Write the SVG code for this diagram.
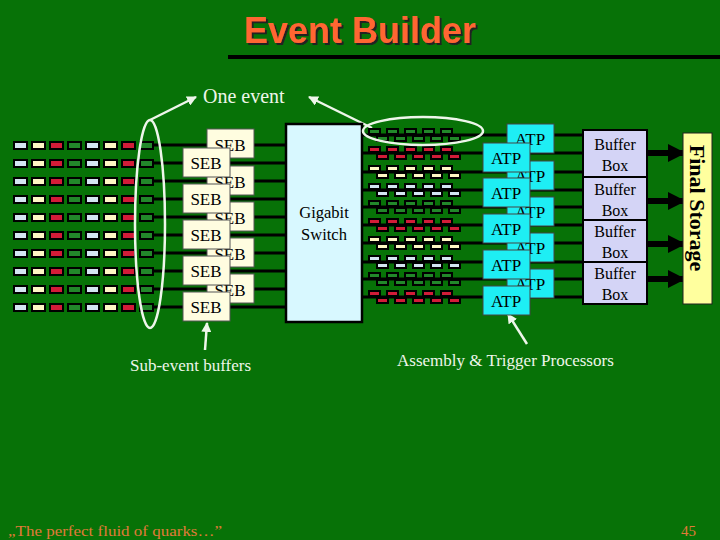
<svg xmlns="http://www.w3.org/2000/svg" width="720" height="540" viewBox="0 0 720 540">
<defs>
<style>
.t{font-family:"Liberation Serif","Times New Roman",serif;fill:#000}
.w{font-family:"Liberation Serif","Times New Roman",serif;fill:#eef6ea}
.cell{stroke:#000;stroke-width:2}
.lb{fill:#d4e6f2}.yl{fill:#fff8c4}.rd{fill:#d21c38}.gr{fill:#22882a}
.seb{fill:#fffde0;stroke:#555;stroke-width:1}
.atp{fill:#1eeef4;stroke:#444;stroke-width:1}
.bb{fill:#d4d4f6;stroke:#000;stroke-width:2}
.ln{stroke:#000;stroke-width:3;fill:none}
.wa{stroke:#eef6ea;stroke-width:2.5;fill:none}
</style>
<filter id="sh" x="-5%" y="-20%" width="110%" height="140%"><feDropShadow dx="2" dy="2" stdDeviation="0.6" flood-color="#222"/></filter>
<marker id="wh" viewBox="0 0 10 10" refX="9" refY="5" markerWidth="4" markerHeight="4" orient="auto"><path d="M0,0L10,5L0,10z" fill="#eef6ea"/></marker>
<marker id="bh" viewBox="0 0 10 10" refX="9" refY="5" markerWidth="3" markerHeight="3" orient="auto"><path d="M0,0L10,5L0,10z" fill="#000"/></marker>
<g id="row">
<rect class="cell lb" x="14" y="-3" width="13" height="7"/>
<rect class="cell yl" x="32" y="-3" width="13" height="7"/>
<rect class="cell rd" x="50" y="-3" width="13" height="7"/>
<rect class="cell gr" x="68" y="-3" width="13" height="7"/>
<rect class="cell lb" x="86" y="-3" width="13" height="7"/>
<rect class="cell yl" x="104" y="-3" width="13" height="7"/>
<rect class="cell rd" x="122" y="-3" width="13" height="7"/>
<rect class="cell gr" x="140" y="-3" width="13" height="7"/>
</g>
<g id="bricks" stroke="#000" stroke-width="2">
<rect x="369" y="0" width="11" height="5"/><rect x="387" y="0" width="11" height="5"/><rect x="405" y="0" width="11" height="5"/><rect x="423" y="0" width="11" height="5"/><rect x="441" y="0" width="11" height="5"/>
<rect x="377" y="7" width="11" height="5"/><rect x="395" y="7" width="11" height="5"/><rect x="413" y="7" width="11" height="5"/><rect x="431" y="7" width="11" height="5"/><rect x="449" y="7" width="11" height="5"/>
</g>
</defs>
<rect x="0" y="0" width="720" height="540" fill="#077207"/>
<g id="title">
<text x="360" y="43" font-family="Liberation Sans,Arial,sans-serif" font-weight="bold" font-size="36" fill="#ff6630" text-anchor="middle" filter="url(#sh)">Event Builder</text>
<rect x="228" y="55" width="492" height="4" fill="#000"/>
</g>
<g id="connectors">
<g class="ln">
<path d="M150 145H286M150 163H286M150 181H286M150 199H286M150 217H286M150 235H286M150 253H286M150 271H286M150 289H286M150 307H286"/>
<path d="M362 135H583M362 153H583M362 172H583M362 190H583M362 207H583M362 225H583M362 243H583M362 262H583M362 279H583M362 297H583"/>
</g>
<g stroke="#000" stroke-width="6" marker-end="url(#bh)">
<line x1="647" y1="153" x2="684" y2="153"/>
<line x1="647" y1="201" x2="684" y2="201"/>
<line x1="647" y1="244" x2="684" y2="244"/>
<line x1="647" y1="279" x2="684" y2="279"/>
</g>
<line class="wa" x1="150" y1="120" x2="196" y2="97" marker-end="url(#wh)"/>
<line class="wa" x1="372" y1="128" x2="309" y2="97" marker-end="url(#wh)"/>
<line class="wa" x1="205" y1="350" x2="207" y2="323" marker-end="url(#wh)"/>
<line class="wa" x1="527" y1="344" x2="508" y2="314" marker-end="url(#wh)"/>
</g>
<g id="subevent-rows">
<use href="#row" y="145"/><use href="#row" y="163"/><use href="#row" y="181"/><use href="#row" y="199"/><use href="#row" y="217"/>
<use href="#row" y="235"/><use href="#row" y="253"/><use href="#row" y="271"/><use href="#row" y="289"/><use href="#row" y="307"/>
</g>
<ellipse id="event-ellipse-left" cx="150" cy="224" rx="15" ry="104" class="wa"/>
<g id="seb-back">
<rect class="seb" x="207" y="129" width="47" height="29"/><text class="t" x="230" y="151" font-size="17" text-anchor="middle">SEB</text>
<rect class="seb" x="207" y="166" width="47" height="29"/><text class="t" x="230" y="188" font-size="17" text-anchor="middle">SEB</text>
<rect class="seb" x="207" y="202" width="47" height="29"/><text class="t" x="230" y="224" font-size="17" text-anchor="middle">SEB</text>
<rect class="seb" x="207" y="238" width="47" height="29"/><text class="t" x="230" y="260" font-size="17" text-anchor="middle">SEB</text>
<rect class="seb" x="207" y="274" width="47" height="29"/><text class="t" x="230" y="296" font-size="17" text-anchor="middle">SEB</text>
</g>
<g id="seb-front">
<rect class="seb" x="183" y="148" width="47" height="29"/><text class="t" x="206" y="169" font-size="17" text-anchor="middle">SEB</text>
<rect class="seb" x="183" y="184" width="47" height="29"/><text class="t" x="206" y="205" font-size="17" text-anchor="middle">SEB</text>
<rect class="seb" x="183" y="220" width="47" height="29"/><text class="t" x="206" y="241" font-size="17" text-anchor="middle">SEB</text>
<rect class="seb" x="183" y="256" width="47" height="29"/><text class="t" x="206" y="277" font-size="17" text-anchor="middle">SEB</text>
<rect class="seb" x="183" y="292" width="47" height="29"/><text class="t" x="206" y="313" font-size="17" text-anchor="middle">SEB</text>
</g>
<g id="gigabit-switch">
<rect x="286" y="124" width="76" height="198" fill="#d8f8ff" stroke="#000" stroke-width="2.5"/>
<text class="t" x="324" y="218" font-size="16.5" text-anchor="middle">Gigabit</text>
<text class="t" x="324" y="240" font-size="16.5" text-anchor="middle">Switch</text>
</g>
<g id="assembled-events">
<use href="#bricks" y="129" class="gr"/>
<use href="#bricks" y="147" class="rd"/>
<use href="#bricks" y="166" class="yl"/>
<use href="#bricks" y="184" class="lb"/>
<use href="#bricks" y="201" class="gr"/>
<use href="#bricks" y="219" class="rd"/>
<use href="#bricks" y="237" class="yl"/>
<use href="#bricks" y="256" class="lb"/>
<use href="#bricks" y="273" class="gr"/>
<use href="#bricks" y="291" class="rd"/>
</g>
<ellipse id="event-ellipse-right" cx="423" cy="131" rx="60" ry="14" class="wa"/>
<g id="atp-back">
<rect class="atp" x="507" y="124" width="47" height="29"/><text class="t" x="530" y="145" font-size="17" text-anchor="middle">ATP</text>
<rect class="atp" x="507" y="161" width="47" height="29"/><text class="t" x="530" y="182" font-size="17" text-anchor="middle">ATP</text>
<rect class="atp" x="507" y="197" width="47" height="29"/><text class="t" x="530" y="218" font-size="17" text-anchor="middle">ATP</text>
<rect class="atp" x="507" y="233" width="47" height="29"/><text class="t" x="530" y="254" font-size="17" text-anchor="middle">ATP</text>
<rect class="atp" x="507" y="269" width="47" height="29"/><text class="t" x="530" y="290" font-size="17" text-anchor="middle">ATP</text>
</g>
<g id="atp-front">
<rect class="atp" x="483" y="143" width="47" height="29"/><text class="t" x="506" y="164" font-size="17" text-anchor="middle">ATP</text>
<rect class="atp" x="483" y="178" width="47" height="29"/><text class="t" x="506" y="199" font-size="17" text-anchor="middle">ATP</text>
<rect class="atp" x="483" y="214" width="47" height="29"/><text class="t" x="506" y="235" font-size="17" text-anchor="middle">ATP</text>
<rect class="atp" x="483" y="250" width="47" height="29"/><text class="t" x="506" y="271" font-size="17" text-anchor="middle">ATP</text>
<rect class="atp" x="483" y="286" width="47" height="29"/><text class="t" x="506" y="307" font-size="17" text-anchor="middle">ATP</text>
</g>
<g id="buffer-boxes">
<rect class="bb" x="583" y="130" width="64" height="47"/>
<text class="t" x="615" y="150" font-size="16" text-anchor="middle">Buffer</text><text class="t" x="615" y="171" font-size="16" text-anchor="middle">Box</text>
<rect class="bb" x="583" y="177" width="64" height="43"/>
<text class="t" x="615" y="195" font-size="16" text-anchor="middle">Buffer</text><text class="t" x="615" y="216" font-size="16" text-anchor="middle">Box</text>
<rect class="bb" x="583" y="220" width="64" height="42"/>
<text class="t" x="615" y="237" font-size="16" text-anchor="middle">Buffer</text><text class="t" x="615" y="258" font-size="16" text-anchor="middle">Box</text>
<rect class="bb" x="583" y="262" width="64" height="42"/>
<text class="t" x="615" y="279" font-size="16" text-anchor="middle">Buffer</text><text class="t" x="615" y="300" font-size="16" text-anchor="middle">Box</text>
</g>
<g id="final-storage">
<rect x="683" y="133" width="29" height="171" fill="#ffff9e" stroke="#222" stroke-width="1"/>
<text class="t" transform="translate(690 208) rotate(90)" font-size="22" font-weight="bold" text-anchor="middle">Final Storage</text>
</g>
<g id="labels">
<text class="w" x="203" y="103" font-size="20">One event</text>
<text class="w" x="130" y="371" font-size="17">Sub-event buffers</text>
<text class="w" x="397" y="366" font-size="17">Assembly &amp; Trigger Processors</text>
</g>
<g id="footer">
<text x="8" y="536" font-family="Liberation Serif,serif" font-size="15" fill="#e07a3a" textLength="214" lengthAdjust="spacingAndGlyphs">„The perfect fluid of quarks…”</text>
<text x="681" y="536" font-family="Liberation Serif,serif" font-size="15" fill="#e07a3a">45</text>
</g>
</svg>
